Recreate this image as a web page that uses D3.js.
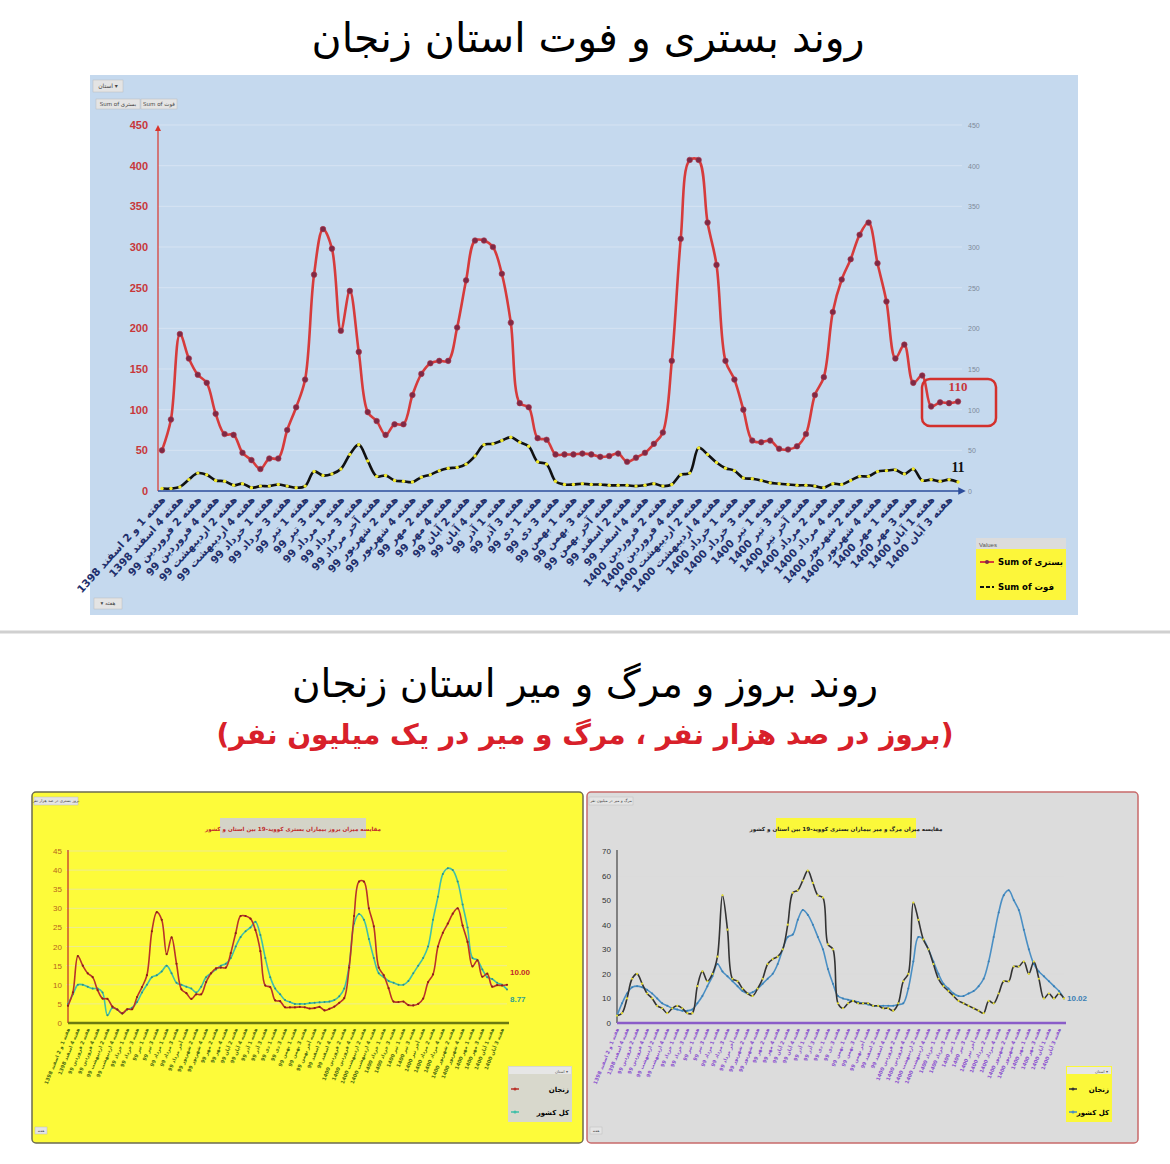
<!DOCTYPE html>
<html><head><meta charset="utf-8">
<script src="https://cdn.jsdelivr.net/npm/d3@7"></script>
<style>body{margin:0;background:#fff}svg{display:block}</style>
</head><body>
<div id="chart"></div>
<script>
// weekly labels (every second week)
const weekLabels = ["هفته 1 و 2 اسفند 1398","هفته 4 اسفند 1398","هفته 2 فروردین 99","هفته 4 فروردین 99","هفته 2 اردیبهشت 99","هفته 4 اردیبهشت 99","هفته 1 خرداد 99","هفته 3 خرداد 99","هفته 1 تیر 99","هفته 3 تیر 99","هفته 1 مرداد 99","هفته 3 مرداد 99","هفته آخر مرداد 99","هفته 2 شهریور 99","هفته 4 شهریور 99","هفته 2 مهر 99","هفته 4 مهر 99","هفته 2 آبان 99","هفته 4 آبان 99","هفته 1 آذر 99","هفته 3 آذر 99","هفته 1 دی 99","هفته 3 دی 99","هفته 1 بهمن 99","هفته 3 بهمن 99","هفته آخر بهمن 99","هفته 2 اسفند 99","هفته 4 اسفند 99","هفته 2 فروردین 1400","هفته 4 فروردین 1400","هفته 2 اردیبهشت 1400","هفته 4 اردیبهشت 1400","هفته 1 خرداد 1400","هفته 3 خرداد 1400","هفته 1 تیر 1400","هفته 3 تیر 1400","هفته آخر تیر 1400","هفته 2 مرداد 1400","هفته 4 مرداد 1400","هفته 2 شهریور 1400","هفته 4 شهریور 1400","هفته 1 مهر 1400","هفته 3 مهر 1400","هفته 1 آبان 1400","هفته 3 آبان 1400"];

// top chart: hospitalised (بستری) and deaths (فوت), Zanjan
const bastari = [50,88,193,163,143,133,95,70,69,47,38,27,40,40,75,103,137,266,322,298,197,246,171,97,86,69,82,82,118,144,157,160,160,201,259,308,308,300,267,207,108,103,65,63,45,45,45,46,45,42,43,46,36,41,47,58,72,160,310,407,407,330,278,160,137,100,62,60,62,52,51,55,70,118,140,220,260,285,315,330,280,233,163,180,133,142,104,109,108,110];
const fot = [3,3,5,14,22,20,13,12,7,9,4,6,6,8,6,4,6,24,19,21,27,45,57,37,18,19,13,12,11,17,20,25,28,29,33,43,57,58,62,66,60,55,36,33,12,8,8,9,8,8,7,7,7,6,7,9,6,8,20,22,53,45,35,28,25,16,15,13,10,9,8,7,7,6,4,9,8,13,18,18,24,25,26,21,27,13,14,12,14,11];

// bottom-left: incidence per 100k
const incZanjan = [4.5,8,17.5,15,13,12,8.6,6.4,6.3,4.3,3.5,2.5,3.6,3.6,6.8,9.4,12.5,24,29,27,18,22.4,15.5,8.8,7.8,6.3,7.5,7.5,10.7,13,14.3,14.5,14.5,18.3,23.5,28,28,27.3,24.3,18.8,9.8,9.4,5.9,5.7,4.1,4.1,4.1,4.2,4.1,3.8,3.9,4.2,3.3,3.7,4.3,5.3,6.5,14.5,28,37,37,30,25.3,14.5,12.5,9.1,5.6,5.5,5.6,4.7,4.6,5,6.4,10.7,12.7,20,23.6,26,28.6,30,25.5,21.2,14.8,16.4,12.1,12.9,9.5,9.9,9.8,10];
const incCountry = [5,7.5,10,10,9.5,9,9,8,2,4,3.5,2.5,3.5,4,5.5,8,10,12,12.5,13.5,15,13,10.5,10,9.5,9,8,9.5,12,13,14,15,15.5,17,20,22.5,24,25,26.5,23,17,12,9,7.5,6,5.5,5,5,5,5.2,5.3,5.4,5.5,5.6,6,7,9,15,26,28.5,27,22,17,13,12,11,10.5,10,10,11,13,15,17,20,27,33,39,40.5,40,37,31,25,17,16.5,14,12,11.5,10.5,10,8.77];

// bottom-right: deaths per million
const mortZanjan = [3,4,10,18,20,16,12,10,7,6,4,6,7,6,4,4,15,21,17,20,27,52,38,18,17,14,12,11,14,18,24,26,27,30,40,53,54,58,62,57,52,51,32,30,8,6,8,9,8,8,8,7,7,6,6,5,8,17,20,49,42,34,30,24,18,15,13,11,9,8,7,6,5,4,9,8,12,17,17,23,23,25,20,25,18,10,12,10,12,10];
const mortCountry = [3,8,12,14.5,15,14.5,13.5,12,10,8,7,6,5.5,5,5,5.5,8,11,15,19,24,21,19,17,15,13,12,12.5,14,16,18,20,24,30,35,36,42,46,44,40,35,30,22,16,11,10,9.5,9,8.5,8,7.5,7,7,7,7,7,7.5,8,14,25,35,34,30,25,20,16,14,12,11,11,12,13,15,18,25,35,45,52,54,50,46,38,30,24,21,19,17,15,13,10.02];

const leftTicks = d3.range(0, 451, 50);
const incTicks = d3.range(0, 46, 5);
const mortTicks = d3.range(0, 71, 10);

const W = 1170, H = 1164;
const FA = "'DejaVu Sans', sans-serif";
const svg = d3.select("#chart").append("svg").attr("width", W).attr("height", H);
const defs = svg.append("defs");
function arrow(id, color) {
  defs.append("marker").attr("id", id).attr("viewBox", "0 0 10 10").attr("refX", 5).attr("refY", 5)
    .attr("markerWidth", 5).attr("markerHeight", 5).attr("orient", "auto-start-reverse")
    .append("path").attr("d", "M0,0L10,5L0,10z").attr("fill", color);
}
arrow("arRed", "#d9342b"); arrow("arBlue", "#2b4c9b");

// ---------- titles ----------
svg.append("text").attr("x", 588).attr("y", 52).attr("text-anchor", "middle")
  .attr("font-family", FA).attr("font-size", 41).text("روند بستری و فوت استان زنجان");
svg.append("line").attr("x1", 0).attr("x2", W).attr("y1", 632).attr("y2", 632).attr("stroke", "#d0d0d0").attr("stroke-width", 3);
svg.append("text").attr("x", 585).attr("y", 697).attr("text-anchor", "middle")
  .attr("font-family", FA).attr("font-size", 39).text("روند بروز و مرگ و میر استان زنجان");
svg.append("text").attr("x", 585).attr("y", 744).attr("text-anchor", "middle").attr("font-weight", "bold")
  .attr("font-family", FA).attr("font-size", 28).attr("fill", "#d8202a").text("(بروز در صد هزار نفر ، مرگ و میر در یک میلیون نفر)");

// ---------- top chart ----------
const topG = svg.append("g");
topG.append("rect").attr("x", 90).attr("y", 75).attr("width", 988).attr("height", 540).attr("fill", "#c5d9ee");
const x1 = d3.scaleLinear().domain([0, bastari.length - 1]).range([162, 958]);
const y1 = d3.scaleLinear().domain([0, 450]).range([491, 125]);
topG.selectAll(".grid").data(leftTicks.slice(1)).join("line")
  .attr("x1", 158).attr("x2", 962).attr("y1", d => y1(d)).attr("y2", d => y1(d)).attr("stroke", "#d6e3f2").attr("stroke-width", 1);
topG.selectAll(".lt").data(leftTicks).join("text").attr("x", 148).attr("y", d => y1(d) + 4)
  .attr("text-anchor", "end").attr("font-family", "Liberation Sans, Arial").attr("font-size", 11).attr("font-weight", "bold")
  .attr("fill", "#c8373a").text(d => d);
topG.selectAll(".rt").data(leftTicks).join("text").attr("x", 968).attr("y", d => y1(d) + 3)
  .attr("font-family", "Liberation Sans, Arial").attr("font-size", 7).attr("fill", "#7f8a99").text(d => d);
topG.append("line").attr("x1", 158).attr("x2", 158).attr("y1", 491).attr("y2", 128).attr("stroke", "#d9342b").attr("stroke-width", 1.2).attr("marker-end", "url(#arRed)");
topG.append("line").attr("x1", 158).attr("x2", 962).attr("y1", 491).attr("y2", 491).attr("stroke", "#2b4c9b").attr("stroke-width", 1.5).attr("marker-end", "url(#arBlue)");

const line1 = d3.line().x((d, i) => x1(i)).y(d => y1(d)).curve(d3.curveCatmullRom);
topG.append("path").attr("d", line1(bastari)).attr("fill", "none").attr("stroke", "#d63b3b").attr("stroke-width", 2.6);
topG.selectAll(".rp").data(bastari).join("circle").attr("cx", (d, i) => x1(i)).attr("cy", d => y1(d)).attr("r", 2.8)
  .attr("fill", "#7e2a45").attr("stroke", "#b0344a").attr("stroke-width", 0.6);
topG.append("path").attr("d", line1(fot)).attr("fill", "none").attr("stroke", "#111").attr("stroke-width", 2.6);
topG.selectAll(".fp").data(fot).join("circle").attr("cx", (d, i) => x1(i)).attr("cy", d => y1(d)).attr("r", 1.7).attr("fill", "#f2ea2c");

topG.append("rect").attr("x", 922).attr("y", 379).attr("width", 74).attr("height", 47).attr("rx", 8)
  .attr("fill", "none").attr("stroke", "#d3302c").attr("stroke-width", 2.5);
topG.append("text").attr("x", 958).attr("y", 391).attr("text-anchor", "middle").attr("font-family", "Liberation Serif").attr("font-weight", "bold")
  .attr("font-size", 13).attr("fill", "#c8373a").text(bastari[bastari.length - 1]);
topG.append("text").attr("x", 958).attr("y", 472).attr("text-anchor", "middle").attr("font-family", "Liberation Serif").attr("font-weight", "bold")
  .attr("font-size", 14).attr("fill", "#111").text(fot[fot.length - 1]);

topG.selectAll(".xl").data(weekLabels).join("text")
  .attr("transform", (d, i) => `translate(${x1(i * 2) + 4},${500}) rotate(-48)`)
  .attr("text-anchor", "end").attr("font-family", FA).attr("font-size", 10.5).attr("font-weight", "bold")
  .attr("fill", "#1f2f6b").text(d => d);

// pivot buttons
function btn(g, x, y, w, h, label, size) {
  g.append("rect").attr("x", x).attr("y", y).attr("width", w).attr("height", h).attr("fill", "#e4e4e4").attr("stroke", "#bcbcbc").attr("stroke-width", 0.5);
  g.append("text").attr("x", x + w / 2).attr("y", y + h / 2 + size / 3).attr("text-anchor", "middle").attr("font-family", FA).attr("font-size", size).attr("fill", "#444").text(label);
}
btn(topG, 93, 80, 30, 12, "استان ▾", 6);
btn(topG, 96, 99, 44, 10, "Sum of بستری", 5.5);
btn(topG, 141, 99, 36, 10, "Sum of فوت", 5.5);
btn(topG, 94, 598, 28, 11, "▾ هفته", 5.5);

// legend
const lg = topG.append("g");
lg.append("rect").attr("x", 976).attr("y", 538).attr("width", 90).attr("height", 62).attr("fill", "#fcf63a");
lg.append("rect").attr("x", 976).attr("y", 538).attr("width", 90).attr("height", 11).attr("fill", "#dcdcdc");
lg.append("text").attr("x", 979).attr("y", 547).attr("font-family", "Liberation Sans").attr("font-size", 6).attr("fill", "#555").text("Values");
lg.append("line").attr("x1", 980).attr("x2", 994).attr("y1", 562).attr("y2", 562).attr("stroke", "#d63b3b").attr("stroke-width", 2);
lg.append("circle").attr("cx", 987).attr("cy", 562).attr("r", 2).attr("fill", "#7e2a45");
lg.append("text").attr("x", 1063).attr("y", 565).attr("text-anchor", "end").attr("font-family", FA).attr("font-weight", "bold").attr("font-size", 8.5).text("Sum of بستری");
lg.append("line").attr("x1", 980).attr("x2", 994).attr("y1", 587).attr("y2", 587).attr("stroke", "#111").attr("stroke-width", 2).attr("stroke-dasharray", "4,2");
lg.append("text").attr("x", 1054).attr("y", 590).attr("text-anchor", "end").attr("font-family", FA).attr("font-weight", "bold").attr("font-size", 8.5).text("Sum of فوت");

// ---------- bottom charts ----------
function panel(o) {
  const g = svg.append("g");
  g.append("rect").attr("x", o.x).attr("y", 792).attr("width", 551).attr("height", 351).attr("rx", 4)
    .attr("fill", o.bg).attr("stroke", o.border).attr("stroke-width", 1.5);
  g.append("rect").attr("x", o.tx).attr("y", 818).attr("width", o.tw).attr("height", 20).attr("fill", o.titleBg);
  g.append("text").attr("x", o.tx + o.tw / 2).attr("y", 831).attr("text-anchor", "middle").attr("font-family", FA)
    .attr("font-size", 5.6).attr("font-weight", "bold").attr("fill", o.titleColor).text(o.title);
  btn(g, o.x + 2, 797, 44, 8, o.btnLabel, 4);
  btn(g, o.x + 3, 1127, 12, 7, "هفته", 3.5);
  const x = d3.scaleLinear().domain([0, o.a.length - 1]).range([o.x0, o.x1]);
  const y = d3.scaleLinear().domain([0, o.max]).range([1023, 851]);
  g.selectAll(".gl").data(o.ticks.slice(1)).join("line").attr("x1", o.x0 - 2).attr("x2", o.x1).attr("y1", d => y(d)).attr("y2", d => y(d))
    .attr("stroke", o.grid).attr("stroke-width", 0.8);
  g.selectAll(".tl").data(o.ticks).join("text").attr("x", o.x0 - 6).attr("y", d => y(d) + 3).attr("text-anchor", "end")
    .attr("font-family", "Liberation Sans Narrow, Liberation Sans").attr("font-size", 8).attr("fill", o.tickColor).text(d => d);
  g.append("line").attr("x1", o.x0).attr("x2", o.x0).attr("y1", 1023).attr("y2", 850).attr("stroke", o.yAxis).attr("stroke-width", 1.2);
  g.append("line").attr("x1", o.x0).attr("x2", o.x1 + 2).attr("y1", 1023).attr("y2", 1023).attr("stroke", o.xAxis).attr("stroke-width", 2.5);
  const ln = d3.line().x((d, i) => x(i)).y(d => y(d)).curve(d3.curveCatmullRom);
  g.append("path").attr("d", ln(o.b)).attr("fill", "none").attr("stroke", o.cb).attr("stroke-width", 1.6);
  g.selectAll(".pb").data(o.b).join("circle").attr("cx", (d, i) => x(i)).attr("cy", d => y(d)).attr("r", 1).attr("fill", o.cbDot);
  g.append("path").attr("d", ln(o.a)).attr("fill", "none").attr("stroke", o.ca).attr("stroke-width", 1.6);
  g.selectAll(".pa").data(o.a).join("circle").attr("cx", (d, i) => x(i)).attr("cy", d => y(d)).attr("r", 1.1).attr("fill", o.caDot);
  o.ends.forEach(e => g.append("text").attr("x", o.x1 + 3).attr("y", y(e.v) + e.dy).attr("font-family", "Liberation Sans Narrow, Liberation Sans")
    .attr("font-weight", "bold").attr("font-size", 8).attr("fill", e.c).text(e.t));
  g.selectAll(".xl").data(weekLabels).join("text")
    .attr("transform", (d, i) => `translate(${x(i * 2) + 2},${1029}) rotate(-68)`)
    .attr("text-anchor", "end").attr("font-family", FA).attr("font-size", 5).attr("font-weight", "bold")
    .attr("fill", o.labelColor).text(d => d);
  // legend
  const L = g.append("g");
  L.append("rect").attr("x", o.lx).attr("y", 1066).attr("width", o.lw).attr("height", 56).attr("fill", o.legBg);
  L.append("rect").attr("x", o.lx + 1).attr("y", 1067).attr("width", o.lw - 2).attr("height", 7).attr("fill", "#e6e6e6");
  L.append("text").attr("x", o.lx + o.lw - 4).attr("y", 1073).attr("text-anchor", "end").attr("font-family", FA).attr("font-size", 4).attr("fill", "#555").text("استان ▾");
  [[o.ca, o.lab[0], 1089], [o.cb, o.lab[1], 1112]].forEach(r => {
    L.append("line").attr("x1", o.lx + 3).attr("x2", o.lx + 11).attr("y1", r[2]).attr("y2", r[2]).attr("stroke", r[0]).attr("stroke-width", 1.5);
    L.append("circle").attr("cx", o.lx + 7).attr("cy", r[2]).attr("r", 1.5).attr("fill", r[0]);
    L.append("text").attr("x", o.lx + o.lw - 3).attr("y", r[2] + 3).attr("text-anchor", "end").attr("font-family", FA)
      .attr("font-weight", "bold").attr("font-size", 7).text(r[1]);
  });
}

panel({x: 32, bg: "#fdfb3a", border: "#6b6b50", tx: 220, tw: 146, titleBg: "#d4d4c8", titleColor: "#c0282a",
  title: "مقایسه میزان بروز بیماران بستری کووید-19 بین استان و کشور", btnLabel: "بروز بستری در صد هزار نفر",
  a: incZanjan, b: incCountry, max: 45, ticks: incTicks, x0: 68, x1: 507, grid: "#e8e7a8", tickColor: "#b5651d",
  yAxis: "#c0282a", xAxis: "#6b7a10", ca: "#b8322a", caDot: "#8a1f1a", cb: "#40bfa8", cbDot: "#2f8f88",
  ends: [{v: 10, dy: -10, t: "10.00", c: "#c0282a"}, {v: 8.77, dy: 13, t: "8.77", c: "#2f9f90"}],
  labelColor: "#4b6a10", lx: 508, lw: 64, legBg: "#d8d8cc", lab: ["زنجان", "کل کشور"]});

panel({x: 587, bg: "#dcdcdc", border: "#c86a6a", tx: 776, tw: 140, titleBg: "#fbf83a", titleColor: "#222",
  title: "مقایسه میزان مرگ و میر بیماران بستری کووید-19 بین استان و کشور", btnLabel: "مرگ و میر در میلیون نفر",
  a: mortZanjan, b: mortCountry, max: 70, ticks: mortTicks, x0: 617, x1: 1064, grid: "#dcdcdc", tickColor: "#333",
  yAxis: "#444", xAxis: "#8a5cc8", ca: "#333", caDot: "#e8e030", cb: "#4a8fc4", cbDot: "#3a7fb4",
  ends: [{v: 10.02, dy: 3, t: "10.02", c: "#3a7fb4"}],
  labelColor: "#8a4fcf", lx: 1066, lw: 46, legBg: "#fbf83a", lab: ["زنجان", "کل کشور"]});
</script>
</body></html>
